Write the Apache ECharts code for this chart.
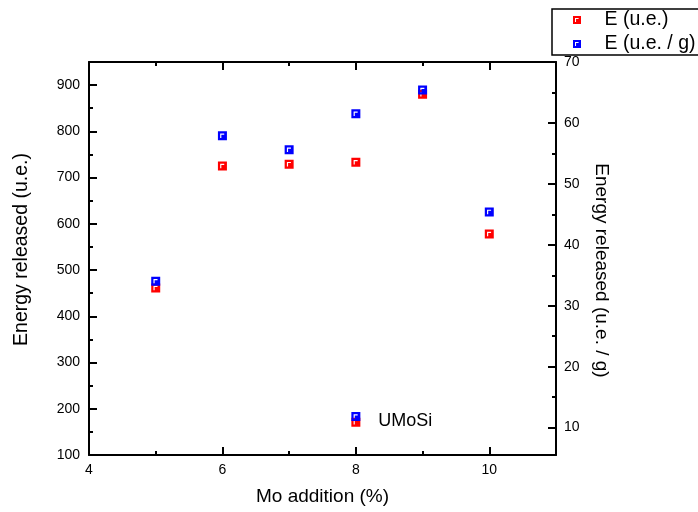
<!DOCTYPE html>
<html>
<head>
<meta charset="utf-8">
<script src="https://cdn.jsdelivr.net/npm/echarts@6/dist/echarts.min.js"></script>
<style>
  html, body { margin: 0; padding: 0; background: #fff; }
  #main { width: 698px; height: 512px; }
</style>
</head>
<body>
<div id="main"></div>
<script>
// data
var moAddition = [5, 6, 7, 8, 9, 10];
var energyUe = [461, 725, 729, 733, 880, 578];
var energyUeG = [34.0, 57.9, 55.6, 61.5, 65.4, 45.4];
// the little "UMoSi" key inside the plot
var keyX = [8];
var keyUe = [171];
var keyUeG = [11.8];
var keyText = 'UMoSi';

var xMajor = [4, 6, 8, 10];
var xMinor = [5, 7, 9];
var leftMajor = [100, 200, 300, 400, 500, 600, 700, 800, 900];
var leftMinor = [150, 250, 350, 450, 550, 650, 750, 850];
var rightMajor = [10, 20, 30, 40, 50, 60, 70];
var rightMinor = [15, 25, 35, 45, 55, 65];

var font = '"Liberation Sans", Arial, sans-serif';
// origin style square with a white corner mark
var marker = 'path://M0 0L10 0L10 10L0 10Z M2.5 2.5L2.5 7.5L3.8 7.5L3.8 3.8L7 3.8L7 2.5Z';

function pairs(xs, ys) {
  return xs.map(function (x, i) { return [x, ys[i]]; });
}

var chart = echarts.init(document.getElementById('main'), null, { renderer: 'canvas' });

var lineStyle = { color: '#000', width: 2 };

function tickAxis(extra) {
  return Object.assign({
    type: 'value',
    offset: 0,
    axisLine: { show: false },
    axisLabel: { show: false },
    splitLine: { show: false }
  }, extra);
}

var option = {
  animation: false,
  backgroundColor: '#fff',
  textStyle: { fontFamily: font },
  grid: { left: 89, right: 142, top: 62, bottom: 57, containLabel: false },
  legend: {
    orient: 'vertical',
    left: 552,
    top: 9,
    padding: [1, 20, 1, 21],
    itemWidth: 45,
    itemHeight: 8,
    itemGap: 4,
    borderColor: '#000',
    borderWidth: 1.5,
    backgroundColor: '#fff',
    z: 10,
    textStyle: { fontFamily: font, fontSize: 19.5, color: '#000', lineHeight: 20 },
    data: ['E (u.e.)', 'E (u.e. / g)']
  },
  xAxis: [
    {
      type: 'value', position: 'bottom', min: 4, max: 11, offset: 0,
      name: 'Mo addition (%)', nameLocation: 'middle', nameGap: 32,
      nameTextStyle: { fontFamily: font, fontSize: 19, color: '#000' },
      axisLine: { show: true, lineStyle: lineStyle },
      axisTick: { show: true, inside: true, length: 8, customValues: xMajor, lineStyle: { color: '#000', width: 2 } },
      axisLabel: { show: true, margin: 8, customValues: xMajor, fontFamily: font, fontSize: 14, color: '#000' },
      splitLine: { show: false }
    },
    tickAxis({ position: 'bottom', min: 4, max: 11,
      axisTick: { show: true, inside: true, length: 4, customValues: xMinor, lineStyle: { color: '#000', width: 2 } } }),
    tickAxis({ position: 'top', min: 4, max: 11,
      axisLine: { show: true, lineStyle: lineStyle },
      axisTick: { show: true, inside: true, length: 8, customValues: xMajor, lineStyle: { color: '#000', width: 2 } } }),
    tickAxis({ position: 'top', min: 4, max: 11,
      axisTick: { show: true, inside: true, length: 4, customValues: xMinor, lineStyle: { color: '#000', width: 2 } } })
  ],
  yAxis: [
    {
      type: 'value', position: 'left', min: 100, max: 950, offset: 0,
      name: 'Energy released (u.e.)', nameLocation: 'middle', nameGap: 57, nameRotate: 90,
      nameTextStyle: { fontFamily: font, fontSize: 19.5, color: '#000', padding: [0, 0, 0, 18] },
      axisLine: { show: true, lineStyle: lineStyle },
      axisTick: { show: true, inside: true, length: 8, customValues: leftMajor, lineStyle: { color: '#000', width: 2 } },
      axisLabel: { show: true, margin: 9, customValues: leftMajor, fontFamily: font, fontSize: 14, color: '#000' },
      splitLine: { show: false }
    },
    tickAxis({ position: 'left', min: 100, max: 950,
      axisTick: { show: true, inside: true, length: 4, customValues: leftMinor, lineStyle: { color: '#000', width: 2 } } }),
    {
      type: 'value', position: 'right', min: 5.5, max: 70, offset: 0,
      name: 'Energy released (u.e. / g)', nameLocation: 'middle', nameGap: 36, nameRotate: -90,
      nameTextStyle: { fontFamily: font, fontSize: 19, color: '#000', padding: [0, 0, 0, 24] },
      axisLine: { show: true, lineStyle: lineStyle },
      axisTick: { show: true, inside: true, length: 8, customValues: rightMajor, lineStyle: { color: '#000', width: 2 } },
      axisLabel: { show: true, margin: 8, customValues: rightMajor, fontFamily: font, fontSize: 14, color: '#000' },
      splitLine: { show: false }
    },
    tickAxis({ position: 'right', min: 5.5, max: 70,
      axisTick: { show: true, inside: true, length: 4, customValues: rightMinor, lineStyle: { color: '#000', width: 2 } } })
  ],
  series: [
    {
      name: 'E (u.e.)', type: 'scatter', xAxisIndex: 0, yAxisIndex: 0,
      symbol: marker, symbolSize: 9,
      itemStyle: { color: '#ff0000', opacity: 1 },
      data: pairs(moAddition, energyUe)
    },
    {
      name: 'E (u.e. / g)', type: 'scatter', xAxisIndex: 0, yAxisIndex: 2,
      symbol: marker, symbolSize: 9,
      itemStyle: { color: '#0000ff', opacity: 1 },
      data: pairs(moAddition, energyUeG)
    },
    {
      name: 'key red', type: 'scatter', xAxisIndex: 0, yAxisIndex: 0,
      symbol: marker, symbolSize: 9, silent: true,
      itemStyle: { color: '#ff0000', opacity: 1 },
      data: pairs(keyX, keyUe)
    },
    {
      name: 'key blue', type: 'scatter', xAxisIndex: 0, yAxisIndex: 2,
      symbol: marker, symbolSize: 9, silent: true,
      itemStyle: { color: '#0000ff', opacity: 1 },
      label: {
        show: true, position: 'right', distance: 18, offset: [0, 4],
        formatter: keyText, fontFamily: font, fontSize: 18, color: '#000'
      },
      data: pairs(keyX, keyUeG)
    }
  ]
};

chart.setOption(option);
</script>
</body>
</html>
